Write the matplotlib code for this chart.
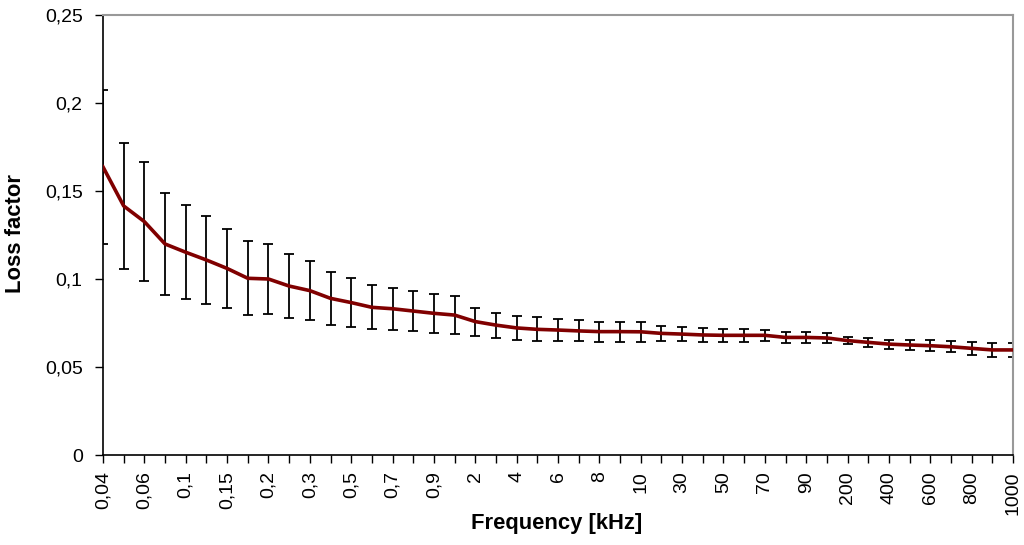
import matplotlib
matplotlib.use("Agg")
import matplotlib.pyplot as plt
import numpy as np

freq_labels = ["0,04", "0,05", "0,06", "0,08", "0,1", "0,125", "0,15", "0,175", "0,2", "0,25",
               "0,3", "0,4", "0,5", "0,6", "0,7", "0,8", "0,9", "1", "2", "3",
               "4", "5", "6", "7", "8", "9", "10", "20", "30", "40",
               "50", "60", "70", "80", "90", "100", "200", "300", "400", "500",
               "600", "700", "800", "900", "1000"]

loss_factor = [0.1637, 0.1415, 0.1326, 0.1199, 0.1152, 0.1108, 0.1060, 0.1004, 0.1000, 0.0960,
               0.0934, 0.0890, 0.0866, 0.0839, 0.0831, 0.0818, 0.0805, 0.0795, 0.0758, 0.0738,
               0.0722, 0.0714, 0.0710, 0.0705, 0.0701, 0.0701, 0.0700, 0.0691, 0.0687, 0.0682,
               0.0680, 0.0680, 0.0680, 0.0668, 0.0668, 0.0665, 0.0650, 0.0640, 0.0630, 0.0625,
               0.0621, 0.0615, 0.0606, 0.0597, 0.0597]

error = [0.0438, 0.0360, 0.0340, 0.0290, 0.0267, 0.0248, 0.0224, 0.0210, 0.0197, 0.0180,
         0.0168, 0.0150, 0.0137, 0.0125, 0.0120, 0.0115, 0.0112, 0.0108, 0.0080, 0.0071,
         0.0070, 0.0068, 0.0065, 0.0060, 0.0057, 0.0057, 0.0058, 0.0043, 0.0040, 0.0040,
         0.0038, 0.0036, 0.0033, 0.0033, 0.0030, 0.0026, 0.0022, 0.0024, 0.0026, 0.0027,
         0.0030, 0.0031, 0.0037, 0.0039, 0.0039]

y_ticks = [0, 0.05, 0.1, 0.15, 0.2, 0.25]
y_tick_labels = ["0", "0,05", "0,1", "0,15", "0,2", "0,25"]

plt.rcParams['font.family'] = ['Liberation Sans', 'DejaVu Sans']

fig = plt.figure(figsize=(10.24, 5.45), dpi=100)
ax = fig.add_axes([103/1024, 1-455/545, 910/1024, 440/545])

x = np.arange(len(freq_labels))
ax.errorbar(x, loss_factor, yerr=error, fmt='none', ecolor='black', elinewidth=1.3,
            capsize=3.6, capthick=1.3, zorder=2)
ax.plot(x, loss_factor, color='#800000', linewidth=2.6, zorder=3)

ax.set_xlim(0, len(freq_labels) - 1)
ax.set_ylim(0, 0.25)
ax.set_yticks(y_ticks)
ax.set_yticklabels(y_tick_labels, fontsize=14)
ax.set_xticks(x)
ax.set_xticklabels([lab if i % 2 == 0 else "" for i, lab in enumerate(freq_labels)],
                   rotation=90, fontsize=14)
ax.tick_params(axis='both', direction='out', length=5.6, width=1, color='black')
ax.tick_params(axis='y', pad=9)
ax.tick_params(axis='x', pad=6)

for s in ['left', 'bottom']:
    ax.spines[s].set_color('black')
    ax.spines[s].set_linewidth(1.2)
for s in ['top', 'right']:
    ax.spines[s].set_color('#999999')
    ax.spines[s].set_linewidth(1.5)

ax.set_xlabel("Frequency [kHz]", fontsize=15.8, fontweight='bold', va='center')
ax.xaxis.set_label_coords((557 - 103) / 910, -(524 - 455) / 440)
ax.set_ylabel("Loss factor", fontsize=15.8, fontweight='bold', va='center')
ax.yaxis.set_label_coords((16 - 103) / 910, (455 - 233.5) / 440)

fig.savefig("out.png", dpi=100)
